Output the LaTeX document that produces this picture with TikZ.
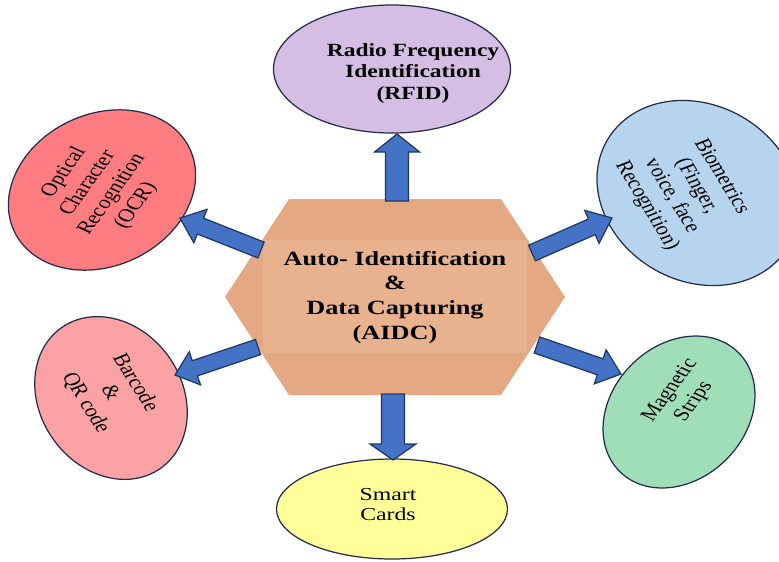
\documentclass[tikz,border=0pt]{standalone}
\usepackage{fontspec}
\usepackage{graphicx}
\setmainfont{Liberation Serif}
\newfontfamily\widefont{Liberation Serif}[FakeStretch=1.3]
\newfontfamily\midfont{Liberation Serif}[FakeStretch=1.26]
\usepackage{tikz}
\usetikzlibrary{calc,shapes.geometric}
\pgfdeclarelayer{bg}
\pgfsetlayers{bg,main}

\definecolor{hexfill}{RGB}{228,168,130}
\definecolor{hexinner}{RGB}{233,178,142}
\definecolor{arrowblue}{RGB}{68,114,196}
\definecolor{arrowline}{RGB}{31,56,100}
\definecolor{bubbleline}{RGB}{35,45,75}
\definecolor{rfidcol}{RGB}{212,190,228}
\definecolor{ocrcol}{RGB}{255,124,128}
\definecolor{biocol}{RGB}{182,212,238}
\definecolor{barcol}{RGB}{250,162,164}
\definecolor{magcol}{RGB}{160,222,186}
\definecolor{smartcol}{RGB}{255,255,153}

\tikzset{
  bubble/.style={ellipse, draw=bubbleline, line width=0.7pt, inner sep=0pt},
  bubbletext/.style={inner sep=0pt, font=\fontsize{10.5}{12.6}\selectfont},
  blockarrow/.style={fill=arrowblue, draw=arrowline, line width=0.7pt, line join=miter},
}

% tail, tip, half shaft, half head, head length
\newcommand{\bigarrow}[5]{%
  \path ($(#2)!#5!(#1)$) coordinate (headbase);
  \draw[blockarrow] ($(#1)!#3!90:(#2)$) -- ($(headbase)!#3!90:(#2)$)
    -- ($(headbase)!#4!90:(#2)$) -- (#2)
    -- ($(headbase)!#4!-90:(#2)$) -- ($(headbase)!#3!-90:(#2)$)
    -- ($(#1)!#3!-90:(#2)$) -- cycle;}
% turned lines of text, stretched sideways like the rest
\newcommand{\tiltlines}[2]{\scalebox{1.25}[1]{\rotatebox{#1}{\begin{tabular}{@{}c@{}}#2\end{tabular}}}}

\begin{document}
\begin{tikzpicture}
        \useasboundingbox (0cm,0cm) rectangle (15.58cm,-11.22cm);
        % centre hexagon
        \coordinate (h1) at (5.780000cm, -3.980000cm);
        \coordinate (h2) at (10.020000cm, -3.980000cm);
        \coordinate (h3) at (11.300000cm, -5.940000cm);
        \coordinate (h4) at (10.020000cm, -7.900000cm);
        \coordinate (h5) at (5.780000cm, -7.900000cm);
        \coordinate (h6) at (4.500000cm, -5.940000cm);
        \begin{pgfonlayer}{bg}
                \fill[hexfill] (h1) -- (h2) -- (h3) -- (h4) -- (h5) -- (h6) -- cycle;
                \begin{scope}
                        \clip (h1) -- (h2) -- (h3) -- (h4) -- (h5) -- (h6) -- cycle;
                        \fill[hexinner] (5.260000cm, -4.800000cm) rectangle (10.540000cm, -7.060000cm);
                \end{scope}
        \end{pgfonlayer}
        \node (aidc) [align=center, font=\widefont\bfseries\fontsize{11.5}{14.2}\selectfont] at (7.900000cm, -5.950000cm)
                {Auto- Identification\\\&\\Data Capturing\\(AIDC)};
        % outer bubbles
        \node (rfid) [bubble, fill=rfidcol, minimum width=4.74cm, minimum height=2.56cm] at (7.840000cm, -1.380000cm) {};
        \node (ocr) [bubble, fill=ocrcol, minimum width=3.88cm, minimum height=3.04cm, rotate=25] at (2.040000cm, -3.800000cm) {};
        \node (bio) [bubble, fill=biocol, minimum width=4.20cm, minimum height=3.52cm, rotate=-30] at (13.960000cm, -3.860000cm) {};
        \node (bar) [bubble, fill=barcol, minimum width=3.44cm, minimum height=2.84cm, rotate=-55] at (2.220000cm, -7.960000cm) {};
        \node (mag) [bubble, fill=magcol, minimum width=3.36cm, minimum height=2.68cm, rotate=45] at (13.580000cm, -8.240000cm) {};
        \node (smart) [bubble, fill=smartcol, minimum width=4.62cm, minimum height=2.00cm] at (7.840000cm, -10.180000cm) {};
        % bubble texts
        \node (rfidtext) [align=center, font=\midfont\bfseries\fontsize{10.6}{12.3}\selectfont] at (8.260000cm, -1.470000cm)
                {Radio Frequency\\Identification\\(RFID)};
        \node (ocrtext) [bubbletext] at (2.000000cm, -3.780000cm)
                {\tiltlines{60}{Optical\\Character\\Recognition\\(OCR)}};
        \node (biotext) [bubbletext] at (13.680000cm, -3.820000cm)
                {\tiltlines{-64}{Biometrics\\(Finger,\\voice, face\\Recognition)}};
        \node (bartext) [bubbletext] at (2.200000cm, -7.860000cm)
                {\tiltlines{-63}{Barcode\\\&\\QR code}};
        \node (magtext) [bubbletext] at (13.640000cm, -7.920000cm)
                {\tiltlines{59}{Magnetic\\Strips}};
        \node (smarttext) [align=center, font=\widefont\fontsize{10.4}{11.4}\selectfont] at (7.760000cm, -10.100000cm)
                {Smart\\Cards};
        % arrow ends
        \coordinate (upfrom) at (7.940000cm, -4.020000cm);
        \coordinate (upto) at (7.940000cm, -2.680000cm);
        \coordinate (downfrom) at (7.860000cm, -7.880000cm);
        \coordinate (downto) at (7.860000cm, -9.200000cm);
        \coordinate (ulfrom) at (5.220000cm, -5.000000cm);
        \coordinate (ulto) at (3.600000cm, -4.360000cm);
        \coordinate (llfrom) at (5.160000cm, -6.940000cm);
        \coordinate (llto) at (3.500000cm, -7.500000cm);
        \coordinate (urfrom) at (10.640000cm, -5.060000cm);
        \coordinate (urto) at (12.240000cm, -4.360000cm);
        \coordinate (lrfrom) at (10.740000cm, -6.900000cm);
        \coordinate (lrto) at (12.420000cm, -7.480000cm);
        \bigarrow{upfrom}{upto}{0.23cm}{0.45cm}{0.36cm}
        \bigarrow{downfrom}{downto}{0.23cm}{0.46cm}{0.32cm}
        \bigarrow{ulfrom}{ulto}{0.17cm}{0.36cm}{0.44cm}
        \bigarrow{llfrom}{llto}{0.16cm}{0.35cm}{0.42cm}
        \bigarrow{urfrom}{urto}{0.17cm}{0.36cm}{0.44cm}
        \bigarrow{lrfrom}{lrto}{0.17cm}{0.36cm}{0.44cm}
\end{tikzpicture}
\end{document}
